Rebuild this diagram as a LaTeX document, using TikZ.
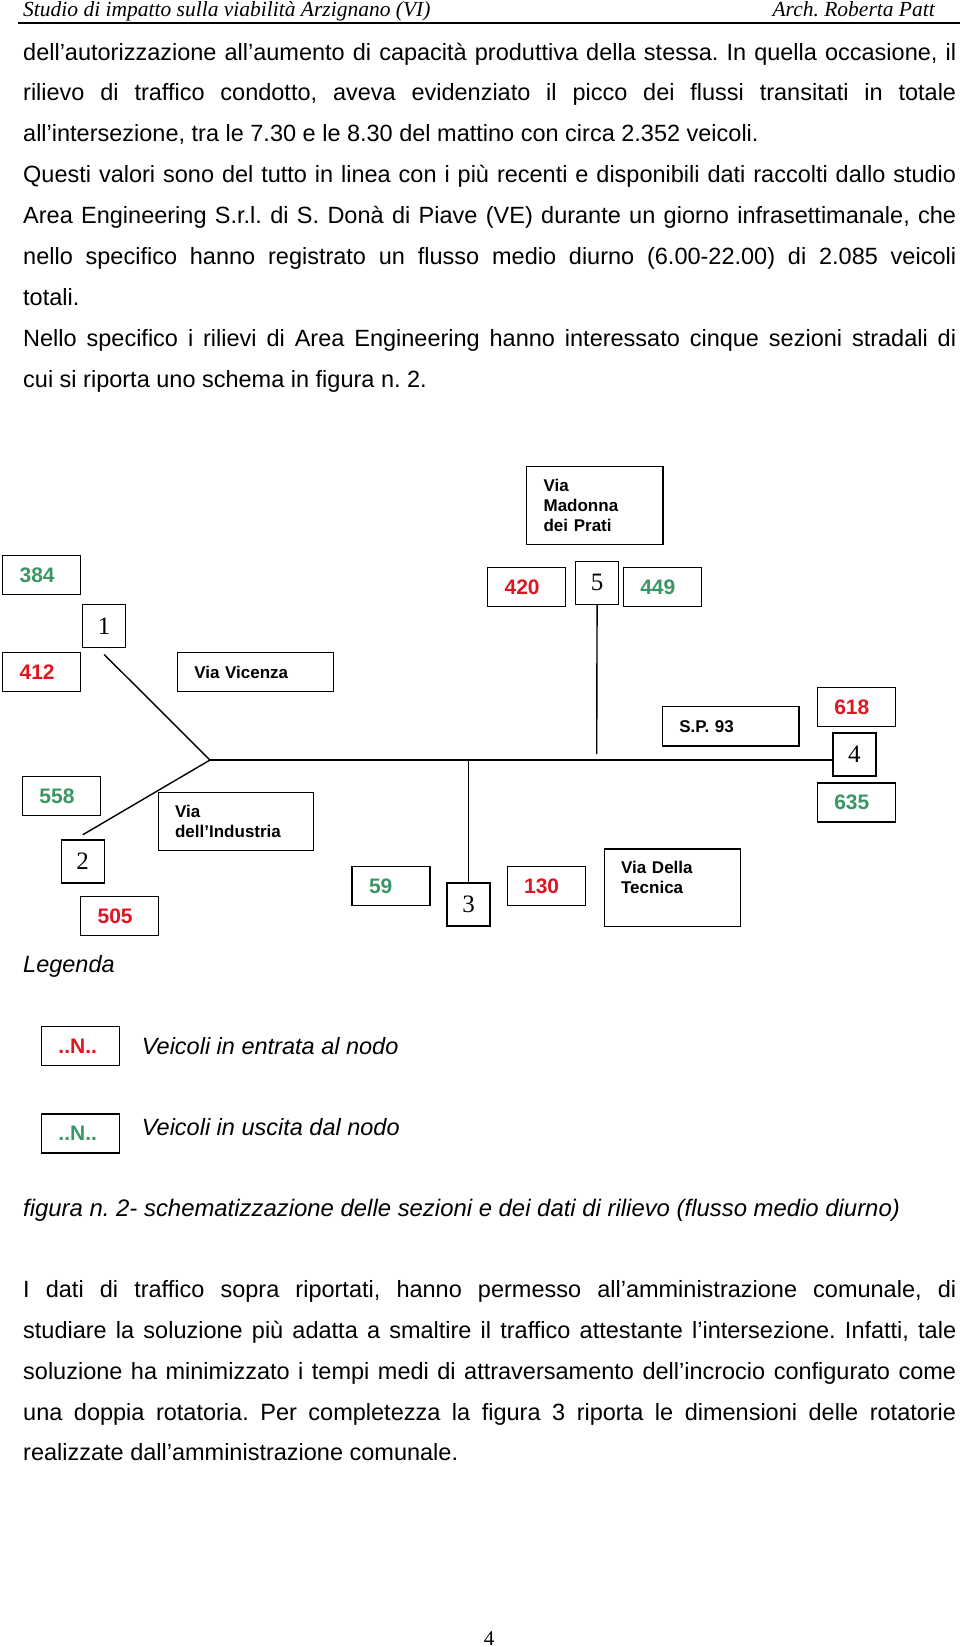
\documentclass[tikz,border=0pt]{standalone}
\usepackage{fontspec}
\setmainfont{Liberation Sans}
\newfontfamily\serifface{Liberation Serif}
\usetikzlibrary{calc}
\definecolor{numred}{RGB}{222,22,34}
\definecolor{numgreen}{RGB}{58,150,100}
\newcommand\jline[1]{\makebox[933pt][s]{#1}}
\frenchspacing
\tikzset{
  body/.style={anchor=base west, inner sep=0pt, font=\fontsize{23.5}{28}\selectfont},
  bodyit/.style={body, font=\itshape\fontsize{23.5}{28}\selectfont},
  hdr/.style={inner sep=0pt, font=\serifface\itshape\fontsize{21.5}{24}\selectfont},
  box/.style={draw, line width=1.2pt, anchor=north west, inner ysep=0pt, align=left},
  numbox/.style={box, minimum height=39pt, text width=44pt, inner xsep=17pt, font=\bfseries\fontsize{21}{24}\selectfont},
  roadbox/.style={box, inner xsep=17pt, font=\bfseries\fontsize{17}{20.3}\selectfont},
  secbox/.style={draw, line width=1.2pt, anchor=north west, minimum width=43pt, minimum height=43pt, inner sep=0pt, font=\serifface\fontsize{25}{25}\selectfont},
  road/.style={line width=1.4pt},
}
\begin{document}
\begin{tikzpicture}[x=1pt,y=-1pt]
\useasboundingbox (0,0) rectangle (960,1647);
\fill[white] (0,0) rectangle (960,1647);

% header
\node[hdr, anchor=base west] (hL) at (23,16) {Studio di impatto sulla viabilità Arzignano (VI)};
\node[hdr, anchor=base east] (hR) at (935,16) {Arch. Roberta Patt};
\coordinate (ruleA) at (18,22.7);
\coordinate (ruleB) at (960,22.7);
\draw[line width=1.8pt] (ruleA) -- (ruleB);

% first text block
\node[body] (t1) at (23,60) {\jline{dell’autorizzazione all’aumento di capacità produttiva della stessa. In quella occasione, il}};
\node[body] (t2) at (23,100.9) {\jline{rilievo di traffico condotto, aveva evidenziato il picco dei flussi transitati in totale}};
\node[body] (t3) at (23,141.8) {all’intersezione, tra le 7.30 e le 8.30 del mattino con circa 2.352 veicoli.};
\node[body] (t4) at (23,182.7) {\jline{Questi valori sono del tutto in linea con i più recenti e disponibili dati raccolti dallo studio}};
\node[body] (t5) at (23,223.6) {\jline{Area Engineering S.r.l. di S. Donà di Piave (VE) durante un giorno infrasettimanale, che}};
\node[body] (t6) at (23,264.5) {\jline{nello specifico hanno registrato un flusso medio diurno (6.00-22.00) di 2.085 veicoli}};
\node[body] (t7) at (23,305.4) {totali.};
\node[body] (t8) at (23,346.3) {\jline{Nello specifico i rilievi di Area Engineering hanno interessato cinque sezioni stradali di}};
\node[body] (t9) at (23,387.2) {cui si riporta uno schema in figura n. 2.};

% diagram: road name boxes
\node[roadbox, text width=102.3pt, minimum height=78pt] (madonna) at (526,465.7) {Via\\Madonna\\dei Prati};
\node[roadbox, text width=122pt, minimum height=38.7pt] (vicenza) at (176.7,652) {Via Vicenza};
\node[roadbox, text width=102.6pt, minimum height=39.3pt] (sp93) at (661.7,706) {S.P. 93};
\node[roadbox, text width=121pt, minimum height=58.3pt] (industria) at (157.5,791.7) {Via\\dell’Industria};
\node[roadbox, text width=102.7pt, minimum height=77.7pt] (tecnica) at (603.5,848.3) {Via Della\\Tecnica\\~};

% count boxes
\node[numbox, text=numgreen] (c384) at (2,555) {384};
\node[numbox, text=numred] (c412) at (2,652) {412};
\node[numbox, text=numred] (c420) at (487,566.7) {420};
\node[numbox, text=numgreen] (c449) at (622.7,566.7) {449};
\node[numbox, text=numred] (c618) at (816.7,687) {618};
\node[numbox, text=numgreen] (c635) at (816.7,782.3) {635};
\node[numbox, text=numgreen] (c558) at (21.8,776) {558};
\node[numbox, text=numred] (c505) at (80,895.7) {505};
\node[numbox, text=numgreen] (c59) at (351.4,865.7) {59};
\node[numbox, text=numred] (c130) at (506.5,865.7) {130};

% section boxes
\node[secbox] (s1) at (82,603.7) {1};
\node[secbox] (s5) at (575,560.7) {5};
\node[secbox] (s4) at (832.3,732.3) {4};
\node[secbox] (s2) at (60.6,839.3) {2};
\node[secbox] (s3) at (446.4,882.3) {3};

% road network
\coordinate (J) at (210,760);
\coordinate (e1) at ($(s1.south)+(0,6.5)$);
\coordinate (e2) at ($(s2.north)+(0,-4.5)$);
\coordinate (e5) at (596.7,754);
\draw[road] (e1) -- (J);
\draw[road] (e2) -- (J);
\draw[road] (J) -- (J -| s4.west);
\draw[road] (s5.south) -- (e5);
\draw[road] (s3.north) -- (s3.north |- J);

% legend
\node[bodyit] (legenda) at (23,972) {Legenda};
\node[numbox, text=numred, minimum width=78.3pt] (lr) at (40.7,1025.7) {..N..};
\node[bodyit] (lrt) at (141.7,1054) {Veicoli in entrata al nodo};
\node[numbox, text=numgreen, minimum width=78.3pt] (lg) at (40.7,1113.3) {..N..};
\node[bodyit] (lgt) at (141.7,1135) {Veicoli in uscita dal nodo};

% caption and second text block
\node[bodyit, font=\itshape\fontsize{23.9}{28}\selectfont] (cap) at (23,1216) {figura n. 2- schematizzazione delle sezioni e dei dati di rilievo (flusso medio diurno)};
\node[body] (u1) at (23,1297.3) {\jline{I dati di traffico sopra riportati, hanno permesso all’amministrazione comunale, di}};
\node[body] (u2) at (23,1338.2) {\jline{studiare la soluzione più adatta a smaltire il traffico attestante l’intersezione. Infatti, tale}};
\node[body] (u3) at (23,1379.1) {\jline{soluzione ha minimizzato i tempi medi di attraversamento dell’incrocio configurato come}};
\node[body] (u4) at (23,1420) {\jline{una doppia rotatoria. Per completezza la figura 3 riporta le dimensioni delle rotatorie}};
\node[body] (u5) at (23,1460.9) {realizzate dall’amministrazione comunale.};

% page number
\node[hdr, font=\serifface\fontsize{21}{24}\selectfont, anchor=base] (pg) at (489,1645) {4};
\end{tikzpicture}
\end{document}
